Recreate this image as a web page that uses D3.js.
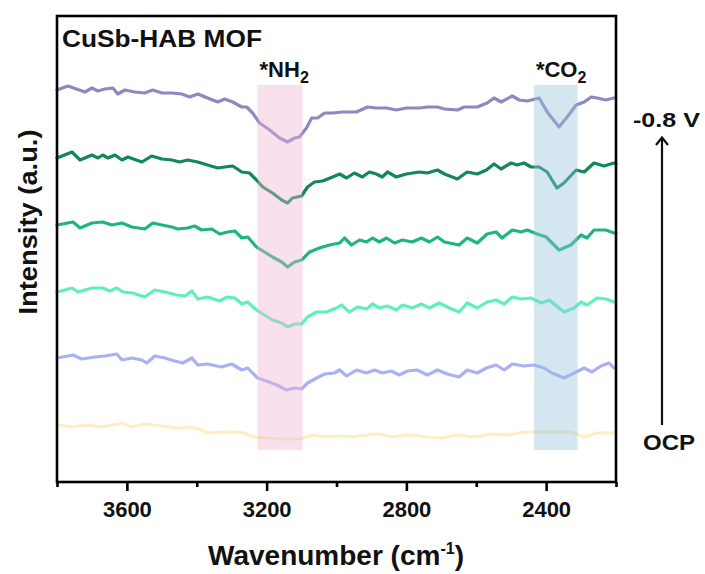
<!DOCTYPE html>
<html>
<head>
<meta charset="utf-8">
<script src="https://cdn.jsdelivr.net/npm/d3@7"></script>
<style>
  html, body { margin: 0; padding: 0; background: #fff; }
  svg { display: block; font-family: Arial, "Liberation Sans", sans-serif; }
</style>
</head>
<body>
<svg id="chart" width="705" height="574"></svg>
<script>
// In situ IR spectra of CuSb-HAB MOF, stacked from OCP (bottom) to -0.8 V (top).
// Each series: [wavenumber (cm-1), offset intensity (a.u.)]
const seriesM08 = [
  [3800,392],[3769,396],[3720,390],[3700,394],[3683,391],[3663,393],[3640,394],[3626,388],
  [3606,392],[3577,390],[3549,389],[3526,392],[3500,389],[3471,389],[3443,388],[3420,385],
  [3397,388],[3369,384],[3340,380],[3320,383],[3297,380],[3271,375],[3257,375],[3240,369],
  [3220,359],[3191,352],[3163,344],[3140,340],[3120,344],[3106,345],[3086,354],[3071,364],
  [3054,364],[3034,369],[3011,369],[2983,370],[2943,370],[2911,375],[2886,374],[2857,374],
  [2829,372],[2800,374],[2763,374],[2740,375],[2711,375],[2691,373],[2654,372],[2634,375],
  [2597,375],[2569,379],[2549,384],[2529,380],[2497,386],[2477,382],[2454,381],[2420,384],
  [2397,370],[2363,355],[2340,365],[2314,377],[2291,380],[2271,385],[2254,384],[2229,382],
  [2206,384],[2200,384]
];
const seriesB = [
  [3800,324],[3757,330],[3734,322],[3700,327],[3683,324],[3669,327],[3654,324],[3634,327],
  [3614,322],[3597,325],[3557,320],[3529,326],[3500,323],[3471,322],[3449,320],[3426,322],
  [3397,320],[3369,317],[3340,314],[3320,315],[3297,316],[3271,310],[3249,309],[3229,302],
  [3211,295],[3183,289],[3157,282],[3140,279],[3126,284],[3100,286],[3083,295],[3063,300],
  [3040,301],[3011,305],[2991,308],[2971,304],[2949,309],[2926,305],[2906,310],[2886,308],
  [2869,305],[2854,310],[2829,305],[2800,308],[2763,310],[2740,309],[2711,312],[2691,308],
  [2654,303],[2626,310],[2597,308],[2571,312],[2549,318],[2529,313],[2500,319],[2483,317],
  [2463,319],[2443,315],[2420,315],[2397,310],[2369,294],[2349,299],[2314,312],[2291,310],
  [2263,319],[2234,316],[2206,319],[2200,318]
];
const seriesC = [
  [3800,257],[3754,260],[3734,254],[3700,259],[3669,260],[3643,257],[3614,259],[3586,255],
  [3549,253],[3526,259],[3500,257],[3471,255],[3454,253],[3426,254],[3406,256],[3386,252],
  [3357,253],[3334,248],[3311,250],[3291,251],[3271,244],[3254,245],[3229,235],[3206,230],
  [3183,225],[3157,220],[3140,215],[3120,220],[3100,222],[3077,230],[3049,234],[3020,237],
  [2991,239],[2977,244],[2957,237],[2934,242],[2914,240],[2897,244],[2877,240],[2857,244],
  [2834,239],[2811,242],[2783,240],[2757,244],[2734,240],[2711,245],[2691,240],[2649,237],
  [2626,244],[2597,239],[2569,248],[2543,250],[2526,244],[2497,252],[2471,250],[2454,252],
  [2426,248],[2400,245],[2363,232],[2329,237],[2300,247],[2283,244],[2263,252],[2229,252],
  [2206,249],[2200,249]
];
const seriesD = [
  [3800,190],[3757,194],[3740,190],[3700,194],[3669,194],[3649,191],[3629,194],[3611,190],
  [3583,189],[3549,185],[3520,192],[3491,190],[3457,187],[3434,186],[3414,191],[3397,183],
  [3369,185],[3334,181],[3314,185],[3291,184],[3271,178],[3254,180],[3229,172],[3206,167],
  [3183,162],[3157,159],[3140,155],[3120,158],[3100,158],[3083,165],[3057,170],[3029,170],
  [3000,174],[2986,177],[2963,170],[2940,175],[2914,173],[2897,178],[2877,174],[2854,176],
  [2829,172],[2811,177],[2783,174],[2757,178],[2734,174],[2706,179],[2677,174],[2649,170],
  [2626,179],[2597,174],[2569,180],[2543,182],[2520,178],[2497,185],[2471,183],[2443,184],
  [2414,179],[2391,182],[2349,170],[2320,174],[2300,180],[2283,177],[2254,184],[2229,183],
  [2206,180],[2200,180]
];
const seriesE = [
  [3800,124],[3754,127],[3729,123],[3691,125],[3663,126],[3629,128],[3614,122],[3586,124],
  [3557,122],[3543,119],[3520,126],[3491,124],[3463,121],[3440,119],[3414,124],[3397,117],
  [3369,118],[3329,115],[3300,118],[3271,112],[3254,114],[3226,104],[3200,101],[3171,97],
  [3143,92],[3120,94],[3100,93],[3083,99],[3057,104],[3034,108],[3006,109],[2991,112],
  [2971,106],[2943,112],[2914,109],[2891,112],[2869,109],[2843,111],[2820,107],[2797,111],
  [2769,112],[2740,107],[2711,112],[2683,108],[2649,105],[2626,112],[2597,109],[2571,114],
  [2543,117],[2520,112],[2497,118],[2463,116],[2434,117],[2406,114],[2383,109],[2349,104],
  [2320,109],[2291,114],[2269,110],[2243,116],[2220,119],[2206,114],[2200,114]
];
const seriesOCP = [
  [3800,57],[3757,55],[3711,57],[3671,55],[3614,59],[3586,55],[3549,58],[3500,56],
  [3454,54],[3414,55],[3386,52],[3369,49],[3329,50],[3291,50],[3263,49],[3240,45],
  [3200,44],[3154,43],[3106,43],[3069,47],[3029,45],[2991,46],[2954,45],[2914,47],
  [2877,48],[2840,45],[2800,47],[2763,46],[2740,45],[2700,44],[2654,47],[2606,45],
  [2557,48],[2511,47],[2463,50],[2414,50],[2369,50],[2329,50],[2291,45],[2254,49],
  [2206,49],[2200,49]
];

const seriesList = [seriesM08, seriesB, seriesC, seriesD, seriesE, seriesOCP];
const seriesColors = ["#8c89c0", "#138757", "#1fb482", "#5ff0ba", "#aab0f6", "#fcefc4"];

// Adsorbate bands: [from, to] in cm-1
const bandNames = ["NH", "CO"];
const bandRanges = [[3226, 3097], [2435, 2310]];
const bandFills = ["#eeb5d2", "#94c2db"];

const majorTicks = [3600, 3200, 2800, 2400];
const minorTicks = [3800, 3400, 3000, 2600, 2200];

const svg = d3.select("#chart");
const plotLeft = 57, plotRight = 616, plotTop = 16, plotBottom = 482;

const x = d3.scaleLinear().domain([3800, 2200]).range([plotLeft, plotRight]);
const y = d3.scaleLinear().domain([0, 466]).range([plotBottom, plotTop]);

// Spectra
const line = d3.line().x(d => x(d[0])).y(d => y(d[1]));
svg.append("g").selectAll("path")
  .data(seriesList)
  .join("path")
  .attr("d", line)
  .attr("fill", "none")
  .attr("stroke", (d, i) => seriesColors[i])
  .attr("stroke-width", 3.2)
  .attr("stroke-linejoin", "round")
  .attr("stroke-linecap", "round");

// Translucent band highlights over the spectra
svg.append("g").selectAll("rect")
  .data(bandRanges)
  .join("rect")
  .attr("x", d => x(d[0]))
  .attr("width", d => x(d[1]) - x(d[0]))
  .attr("y", y(397))
  .attr("height", y(32) - y(397))
  .attr("fill", (d, i) => bandFills[i])
  .attr("fill-opacity", 0.4);

// Band labels with subscript
bandRanges.forEach((r, i) => {
  const t = svg.append("text")
    .attr("x", x(r[0]) + 2)
    .attr("y", 77)
    .attr("font-size", 22)
    .attr("font-weight", "bold")
    .attr("fill", "#111");
  t.append("tspan").text("*" + bandNames[i]);
  t.append("tspan").attr("font-size", 16).attr("dy", 6).text("2");
});

// Frame
svg.append("rect")
  .attr("x", plotLeft).attr("y", plotTop)
  .attr("width", plotRight - plotLeft).attr("height", plotBottom - plotTop)
  .attr("fill", "none").attr("stroke", "#000").attr("stroke-width", 2.6);

// Bottom axis: labelled major ticks + short minor ticks
const axisMajor = d3.axisBottom(x).tickValues(majorTicks).tickSize(9).tickPadding(10)
  .tickFormat(d3.format("d"));
const gMaj = svg.append("g").attr("transform", `translate(0,${plotBottom})`).call(axisMajor);
gMaj.select(".domain").remove();
gMaj.selectAll("line").attr("stroke", "#000").attr("stroke-width", 2.6);
gMaj.selectAll("text").attr("font-size", 22).attr("font-weight", "bold")
  .attr("fill", "#111").attr("font-family", "Arial, 'Liberation Sans', sans-serif");

const axisMinor = d3.axisBottom(x).tickValues(minorTicks).tickSize(5).tickFormat("");
const gMin = svg.append("g").attr("transform", `translate(0,${plotBottom})`).call(axisMinor);
gMin.select(".domain").remove();
gMin.selectAll("line").attr("stroke", "#000").attr("stroke-width", 2.6);

// Title inside the frame
svg.append("text")
  .attr("x", 62).attr("y", 47)
  .attr("font-size", 24).attr("font-weight", "bold").attr("fill", "#111")
  .attr("textLength", 200).attr("lengthAdjust", "spacingAndGlyphs")
  .text("CuSb-HAB MOF");

// X axis title
const xt = svg.append("text")
  .attr("x", 336).attr("y", 565)
  .attr("text-anchor", "middle")
  .attr("font-size", 28).attr("font-weight", "bold").attr("fill", "#111");
xt.append("tspan").text("Wavenumber (cm");
xt.append("tspan").attr("font-size", 16).attr("dy", -11).text("-1");
xt.append("tspan").attr("dy", 11).text(")");

// Y axis title
svg.append("text")
  .attr("transform", "translate(37,222) rotate(-90)")
  .attr("text-anchor", "middle")
  .attr("font-size", 25).attr("font-weight", "bold").attr("fill", "#111")
  .attr("textLength", 185).attr("lengthAdjust", "spacingAndGlyphs")
  .text("Intensity (a.u.)");

// Potential sweep indicator on the right
svg.append("text")
  .attr("x", 633).attr("y", 127)
  .attr("font-size", 21).attr("font-weight", "bold").attr("fill", "#111")
  .attr("textLength", 67).attr("lengthAdjust", "spacingAndGlyphs")
  .text("-0.8 V");
svg.append("text")
  .attr("x", 643).attr("y", 450)
  .attr("font-size", 22).attr("font-weight", "bold").attr("fill", "#111")
  .attr("textLength", 52).attr("lengthAdjust", "spacingAndGlyphs")
  .text("OCP");
svg.append("line")
  .attr("x1", 662).attr("x2", 662).attr("y1", 425).attr("y2", 138)
  .attr("stroke", "#111").attr("stroke-width", 2.2);
svg.append("path")
  .attr("d", "M656,145 L662,137.5 L668,145")
  .attr("fill", "none").attr("stroke", "#111").attr("stroke-width", 2.2)
  .attr("stroke-linejoin", "miter");
</script>
</body>
</html>
